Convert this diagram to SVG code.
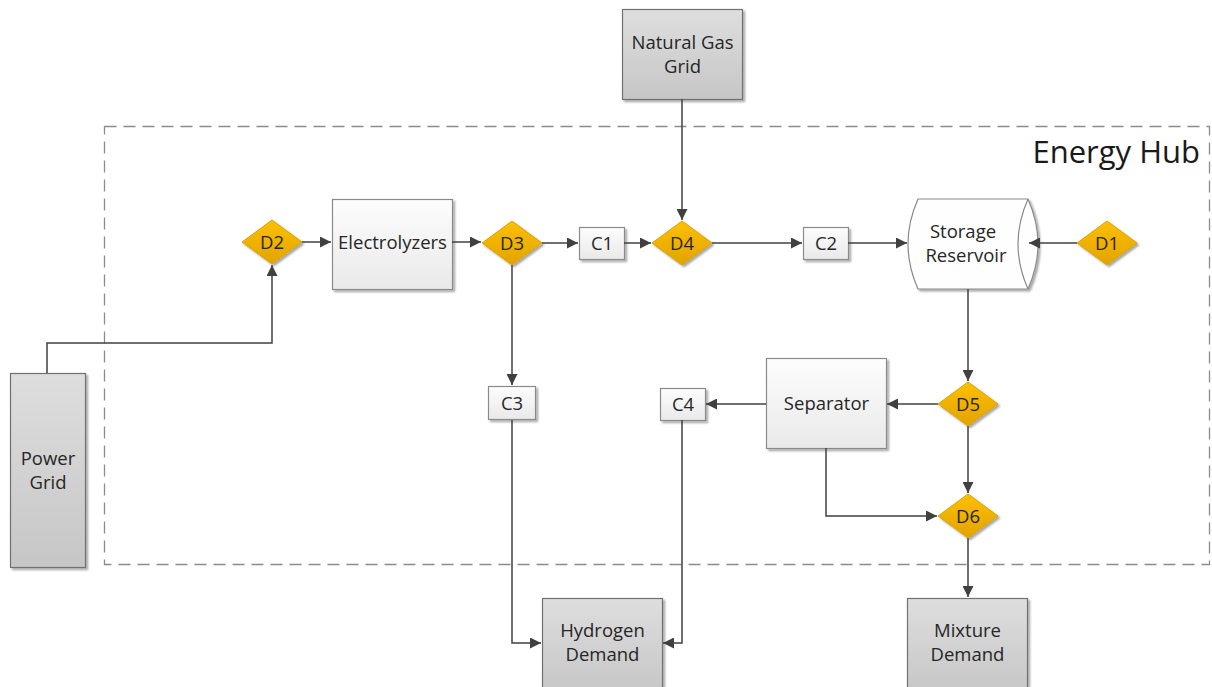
<svg xmlns="http://www.w3.org/2000/svg" width="1212" height="687" viewBox="0 0 1212 687">
  <defs>
    <linearGradient id="gGray" x1="0" y1="0" x2="0" y2="1">
      <stop offset="0" stop-color="#dedede"/>
      <stop offset="1" stop-color="#c6c6c6"/>
    </linearGradient>
    <linearGradient id="gLight" x1="0" y1="0" x2="0" y2="1">
      <stop offset="0" stop-color="#fdfdfd"/>
      <stop offset="1" stop-color="#e9e9e9"/>
    </linearGradient>
    <linearGradient id="gGold" x1="0" y1="0" x2="0" y2="1">
      <stop offset="0" stop-color="#fcc000"/>
      <stop offset="1" stop-color="#e3a300"/>
    </linearGradient>
    <filter id="shadow" x="-10%" y="-10%" width="130%" height="130%">
      <feGaussianBlur in="SourceAlpha" stdDeviation="1.2"/>
      <feOffset dx="2" dy="2" result="b"/>
      <feComponentTransfer><feFuncA type="linear" slope="0.35"/></feComponentTransfer>
      <feMerge><feMergeNode/><feMergeNode in="SourceGraphic"/></feMerge>
    </filter>
    <marker id="arrow" viewBox="0 0 10 10" refX="10" refY="5" markerWidth="11" markerHeight="11" markerUnits="userSpaceOnUse" orient="auto">
      <path d="M0,0 L10,5 L0,10 Z" fill="#404040"/>
    </marker>
  </defs>
  <style>
    .gray { fill: url(#gGray); stroke: #707070; stroke-width: 1.2; filter: url(#shadow); }
    .light { fill: url(#gLight); stroke: #8a8a8a; stroke-width: 1.2; filter: url(#shadow); }
    .tank { fill: #fefefe; stroke: #8a8a8a; stroke-width: 1.2; filter: url(#shadow); }
    .dia { fill: url(#gGold); stroke: #d9a400; stroke-width: 1; filter: url(#shadow); }
    .lbl { font-family: "Open Sans", "Noto Sans", "Liberation Sans", sans-serif; font-size: 18.5px; fill: #262626; text-anchor: middle; }
    .con { fill: none; stroke: #404040; stroke-width: 1.5; }
    .arr { marker-end: url(#arrow); }
  </style>

  <!-- Energy hub boundary -->
  <g id="energy-hub">
    <rect x="104.5" y="126.5" width="1105" height="438" fill="none" stroke="#8c8c8c" stroke-width="1.3" stroke-dasharray="12,7"/>
    <text x="1200" y="163" font-family="'Open Sans', 'Noto Sans', 'Liberation Sans', sans-serif" font-size="31" fill="#1a1a1a" text-anchor="end">Energy Hub</text>
  </g>

  <!-- External sources and sinks -->
  <g id="natural-gas-grid">
    <rect class="gray" x="622.5" y="9.5" width="120" height="90"/>
    <text class="lbl" x="682.5" y="49">Natural Gas</text>
    <text class="lbl" x="682.5" y="73">Grid</text>
  </g>
  <g id="power-grid">
    <rect class="gray" x="10.5" y="373.5" width="75" height="194"/>
    <text class="lbl" x="48" y="465">Power</text>
    <text class="lbl" x="48" y="489">Grid</text>
  </g>
  <g id="hydrogen-demand">
    <rect class="gray" x="542.5" y="598.5" width="120" height="95"/>
    <text class="lbl" x="602.5" y="637">Hydrogen</text>
    <text class="lbl" x="602.5" y="661">Demand</text>
  </g>
  <g id="mixture-demand">
    <rect class="gray" x="907.5" y="598.5" width="120" height="95"/>
    <text class="lbl" x="967.5" y="637">Mixture</text>
    <text class="lbl" x="967.5" y="661">Demand</text>
  </g>

  <!-- Process units -->
  <g id="electrolyzers">
    <rect class="light" x="332.5" y="199.5" width="120" height="90"/>
    <text class="lbl" x="392.5" y="249">Electrolyzers</text>
  </g>
  <g id="separator">
    <rect class="light" x="766.5" y="358.5" width="120" height="90"/>
    <text class="lbl" x="826.5" y="410">Separator</text>
  </g>
  <g id="storage-reservoir">
    <path class="tank" d="M918,199 H1028 Q1048,244 1028,289 H918 Q898,244 918,199 Z"/>
    <path d="M1028,199 Q1008,244 1028,289" fill="none" stroke="#8a8a8a" stroke-width="1.2"/>
    <text class="lbl" x="963" y="238">Storage</text>
    <text class="lbl" x="966" y="262">Reservoir</text>
  </g>

  <!-- Compressors -->
  <g id="c1">
    <rect class="light" x="579.5" y="227.5" width="45" height="32"/>
    <text class="lbl" x="602" y="250">C1</text>
  </g>
  <g id="c2">
    <rect class="light" x="803.5" y="227.5" width="45" height="32"/>
    <text class="lbl" x="826" y="250">C2</text>
  </g>
  <g id="c3">
    <rect class="light" x="488.5" y="386.5" width="47" height="33"/>
    <text class="lbl" x="512" y="410">C3</text>
  </g>
  <g id="c4">
    <rect class="light" x="660.5" y="388.5" width="45" height="32"/>
    <text class="lbl" x="683" y="411">C4</text>
  </g>

  <!-- Distribution nodes -->
  <g id="d1">
    <path class="dia" d="M1107,221 L1137,243 L1107,265 L1077,243 Z"/>
    <text class="lbl" x="1107" y="250">D1</text>
  </g>
  <g id="d2">
    <path class="dia" d="M272,220 L302,242 L272,264 L242,242 Z"/>
    <text class="lbl" x="272" y="249">D2</text>
  </g>
  <g id="d3">
    <path class="dia" d="M512,221 L542,243 L512,265 L482,243 Z"/>
    <text class="lbl" x="512" y="250">D3</text>
  </g>
  <g id="d4">
    <path class="dia" d="M682,221 L712,243 L682,265 L652,243 Z"/>
    <text class="lbl" x="682" y="250">D4</text>
  </g>
  <g id="d5">
    <path class="dia" d="M968,382 L998,404 L968,426 L938,404 Z"/>
    <text class="lbl" x="968" y="411">D5</text>
  </g>
  <g id="d6">
    <path class="dia" d="M968,494 L998,516 L968,538 L938,516 Z"/>
    <text class="lbl" x="968" y="523">D6</text>
  </g>

  <!-- Connectors -->
  <g id="connectors">
    <path class="con arr" d="M47,373 V343 H272 V265"/>
    <path class="con arr" d="M302,242 H331"/>
    <path class="con arr" d="M452,242 H481"/>
    <path class="con arr" d="M542,243 H578"/>
    <path class="con arr" d="M624,243 H651"/>
    <path class="con arr" d="M682,99 V220"/>
    <path class="con arr" d="M712,243 H802"/>
    <path class="con arr" d="M848,243 H907"/>
    <path class="con arr" d="M1077,243 H1029"/>
    <path class="con arr" d="M968,289 V381"/>
    <path class="con arr" d="M938,404 H887"/>
    <path class="con arr" d="M766,404 H706"/>
    <path class="con arr" d="M968,426 V493"/>
    <path class="con arr" d="M826,448 V516 H937"/>
    <path class="con arr" d="M968,538 V597"/>
    <path class="con arr" d="M512,265 V385"/>
    <path class="con arr" d="M512,420 V643 H541"/>
    <path class="con arr" d="M682,420 V643 H663"/>
  </g>
</svg>
